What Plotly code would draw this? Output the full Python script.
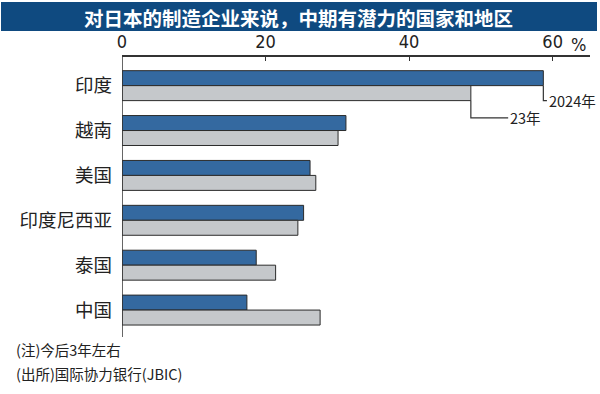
import plotly.graph_objects as go

categories = ["印度", "越南", "美国", "印度尼西亚", "泰国", "中国"]
values_2024 = [58.7, 31.2, 26.2, 25.3, 18.7, 17.4]
values_2023 = [48.6, 30.1, 27.0, 24.5, 21.4, 27.6]
series_names = ["2024年", "23年"]
x_ticks = [0, 20, 40, 60]
title_text = "对日本的制造企业来说，中期有潜力的国家和地区"
notes = ["(注)今后3年左右", "(出所)国际协力银行(JBIC)"]

CJK = "Noto Sans CJK SC"
NUM = "Liberation Sans Narrow, DejaVu Sans Condensed, Noto Sans CJK SC"
BLUE = "#3469a0"
GRAY = "#c5c8cb"
EDGE = "#2b2b2b"
NAVY = "#0f4a80"

fig = go.Figure()
fig.add_trace(go.Bar(y=categories, x=values_2024, orientation="h", name=series_names[0],
                     marker=dict(color=BLUE, line=dict(color=EDGE, width=1))))
fig.add_trace(go.Bar(y=categories, x=values_2023, orientation="h", name=series_names[1],
                     marker=dict(color=GRAY, line=dict(color=EDGE, width=1))))

W, H = 600, 394
L, R, T, B = 122, 10, 57, 57
pw, ph = W - L - R, H - T - B

def px_x(p):
    return (p - L) / pw

def px_y(p):
    return (H - B - p) / ph

shapes = []
# title bar
shapes.append(dict(type="rect", xref="paper", yref="paper",
                   x0=px_x(1), x1=px_x(597), y0=px_y(2), y1=px_y(31),
                   fillcolor=NAVY, line=dict(width=0), layer="below"))
# left axis line
shapes.append(dict(type="line", xref="x", yref="paper", x0=0, x1=0, y0=0, y1=1,
                   line=dict(color="#333", width=1.5)))
# leader lines
bar_half = 1 / 3
y24_end = 0.333
y23_end = 0.718
shapes.append(dict(type="path", xref="x", yref="y",
                   path=f"M {values_2024[0]},{0} L {values_2024[0]},{y24_end} L {values_2024[0]+0.5},{y24_end}",
                   line=dict(color="#333", width=1.2)))
shapes.append(dict(type="path", xref="x", yref="y",
                   path=f"M {values_2023[0]},{bar_half} L {values_2023[0]},{y23_end} L {values_2023[0]+5.2},{y23_end}",
                   line=dict(color="#333", width=1.2)))

annotations = [
    dict(text=f"<b>{title_text}</b>", xref="paper", yref="paper", x=px_x(298), y=px_y(17),
         xanchor="center", yanchor="middle", showarrow=False,
         font=dict(family=CJK, size=19.5, color="white")),
    dict(text="%", xref="paper", yref="paper", x=px_x(578), y=px_y(45),
         xanchor="center", yanchor="middle", showarrow=False,
         font=dict(family=NUM, size=18, color="#222")),
    dict(text=series_names[0], xref="x", yref="y", x=values_2024[0] + 0.5, y=y24_end,
         xanchor="left", yanchor="middle", showarrow=False,
         font=dict(family=CJK, size=14.5, color="#222")),
    dict(text=series_names[1], xref="x", yref="y", x=values_2023[0] + 5.2, y=y23_end,
         xanchor="left", yanchor="middle", showarrow=False,
         font=dict(family=CJK, size=14.5, color="#222")),
    dict(text=notes[0], xref="paper", yref="paper", x=px_x(14), y=px_y(349),
         xanchor="left", yanchor="middle", showarrow=False,
         font=dict(family=CJK, size=14.5, color="#222")),
    dict(text=notes[1], xref="paper", yref="paper", x=px_x(14), y=px_y(373),
         xanchor="left", yanchor="middle", showarrow=False,
         font=dict(family=CJK, size=14.5, color="#222")),
]

fig.update_layout(
    width=W, height=H,
    margin=dict(l=L, r=R, t=T, b=B, pad=0),
    paper_bgcolor="white", plot_bgcolor="white",
    barmode="group", bargap=0.333, bargroupgap=0,
    showlegend=False,
    shapes=shapes, annotations=annotations,
    xaxis=dict(side="top", range=[0, 65.2], tickvals=x_ticks, ticktext=[str(t) for t in x_ticks],
               showgrid=False, zeroline=False, showline=True, linecolor="#333", linewidth=1.5,
               ticks="inside", ticklen=4, tickcolor="#333",
               tickfont=dict(family=NUM, size=18, color="#222")),
    yaxis=dict(type="category", categoryorder="array", categoryarray=categories,
               range=[5.6, -0.638], autorange=False,
               showgrid=False, zeroline=False, showline=False, ticks="",
               ticklabelstandoff=9,
               tickfont=dict(family=CJK, size=18.5, color="#222")),
)

fig.write_html("out.html")
